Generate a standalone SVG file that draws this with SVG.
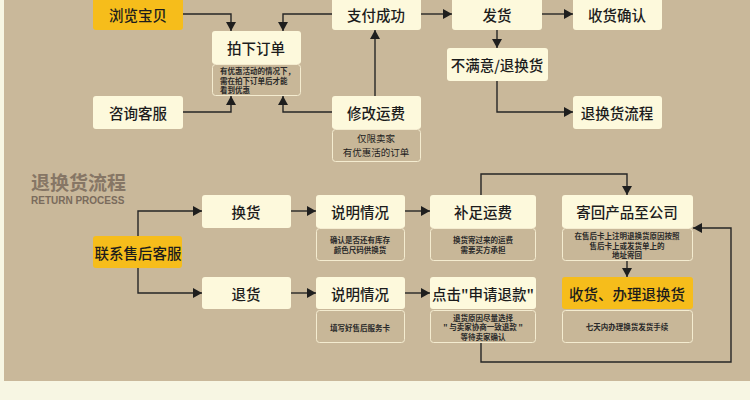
<svg xmlns="http://www.w3.org/2000/svg" width="750" height="400" viewBox="0 0 750 400">
<defs>
<marker id="ah" markerUnits="userSpaceOnUse" markerWidth="10" markerHeight="10" refX="9" refY="5" orient="auto">
<path d="M0,0 L9,5 L0,10 Z" fill="#1e1e1e"/>
</marker>
<style>
.box{fill:#fdf9dc;}
.org{fill:#f6bd1b;}
.sub{fill:#c8b798;stroke:#f4ecd0;stroke-width:1;}
.t{font-family:"Noto Sans CJK SC","Noto Sans",sans-serif;font-size:14.5px;font-weight:500;fill:#1c1c1c;text-anchor:middle;dominant-baseline:central;}
.s{font-family:"Noto Sans CJK SC","Noto Sans",sans-serif;font-size:7.5px;font-weight:bold;fill:#2a2a2a;text-anchor:middle;dominant-baseline:central;}
.s2{font-family:"Noto Sans CJK SC","Noto Sans",sans-serif;font-size:9.5px;fill:#1c1c1c;text-anchor:middle;dominant-baseline:central;}
.ln{fill:none;stroke:#262626;stroke-width:1.4;marker-end:url(#ah);}
</style>
</defs>
<rect x="0" y="0" width="750" height="400" fill="#f7f6e3"/>
<rect x="4" y="0" width="746" height="381" fill="#c9b89a"/>

<g id="title">
<text x="31" y="181" font-family="Noto Sans CJK SC, sans-serif" font-size="19" font-weight="bold" fill="#867665" dominant-baseline="central">退换货流程</text>
<text x="31" y="200" font-family="Liberation Sans, Arial, sans-serif" font-size="10" font-weight="bold" fill="#7a6b5c" dominant-baseline="central">RETURN PROCESS</text>
</g>

<g id="connectors">
<path class="ln" d="M183,14 H231 V31"/>
<path class="ln" d="M183,112 H231 V96"/>
<path class="ln" d="M332,14 H283 V31"/>
<path class="ln" d="M332,112 H283 V96"/>
<path class="ln" d="M375,96 V30"/>
<path class="ln" d="M421,14 H452"/>
<path class="ln" d="M542,14 H573"/>
<path class="ln" d="M497,30 V48"/>
<path class="ln" d="M497,81 V112 H573"/>
<path class="ln" d="M138,236 V211 H202"/>
<path class="ln" d="M138,268 V293 H202"/>
<path class="ln" d="M291,211 H316"/>
<path class="ln" d="M405,211 H430"/>
<path class="ln" d="M481,195 V174 H627 V195"/>
<path class="ln" d="M627,260 V277"/>
<path class="ln" d="M291,293 H316"/>
<path class="ln" d="M405,293 H430"/>
<path class="ln" d="M481,343 V362 H731 V228 H693"/>
</g>

<g id="n-browse"><rect class="org" x="93" y="-3" width="90" height="33" rx="3"/><text class="t" x="138" y="14">浏览宝贝</text></g>
<g id="n-consult"><rect class="box" x="93" y="96" width="90" height="33" rx="3"/><text class="t" x="138" y="112">咨询客服</text></g>
<g id="n-order"><rect class="box" x="212" y="31" width="89" height="33" rx="3"/><text class="t" x="256" y="47">拍下订单</text>
<rect class="sub" x="212.5" y="64.5" width="88" height="31" rx="3"/>
<text class="s" x="220" y="70.5" style="text-anchor:start">有优惠活动的情况下，</text>
<text class="s" x="220" y="80" style="text-anchor:start">需在拍下订单后才能</text>
<text class="s" x="220" y="89.5" style="text-anchor:start">看到优惠</text></g>
<g id="n-pay"><rect class="box" x="332" y="-3" width="89" height="33" rx="3"/><text class="t" x="376" y="14">支付成功</text></g>
<g id="n-fee"><rect class="box" x="332" y="96" width="89" height="33" rx="3"/><text class="t" x="376" y="112">修改运费</text>
<rect class="sub" x="332.5" y="129.5" width="88" height="32" rx="3"/>
<text class="s2" x="376" y="138">仅限卖家</text>
<text class="s2" x="376" y="152">有优惠活的订单</text></g>
<g id="n-ship"><rect class="box" x="452" y="-3" width="90" height="33" rx="3"/><text class="t" x="497" y="14">发货</text></g>
<g id="n-confirm"><rect class="box" x="573" y="-3" width="89" height="33" rx="3"/><text class="t" x="617" y="14">收货确认</text></g>
<g id="n-unhappy"><rect class="box" x="447" y="48" width="101" height="33" rx="3"/><text class="t" x="497" y="64">不满意/退换货</text></g>
<g id="n-returnflow"><rect class="box" x="573" y="96" width="89" height="33" rx="3"/><text class="t" x="617" y="112">退换货流程</text></g>

<g id="n-service"><rect class="org" x="93" y="236" width="89" height="32" rx="3"/><text class="t" x="138" y="252">联系售后客服</text></g>
<g id="n-exchange"><rect class="box" x="202" y="195" width="89" height="33" rx="3"/><text class="t" x="246" y="211">换货</text></g>
<g id="n-explain1"><rect class="box" x="316" y="195" width="89" height="33" rx="3"/><text class="t" x="360" y="211">说明情况</text>
<rect class="sub" x="316.5" y="228.5" width="88" height="32" rx="3"/>
<text class="s" x="360" y="239">确认是否还有库存</text>
<text class="s" x="360" y="249">颜色尺码供换货</text></g>
<g id="n-topup"><rect class="box" x="430" y="195" width="106" height="33" rx="3"/><text class="t" x="483" y="211">补足运费</text>
<rect class="sub" x="430.5" y="228.5" width="105" height="32" rx="3"/>
<text class="s" x="483" y="239">换货寄过来的运费</text>
<text class="s" x="483" y="249">需要买方承担</text></g>
<g id="n-sendback"><rect class="box" x="562" y="195" width="131" height="33" rx="3"/><text class="t" x="627" y="211">寄回产品至公司</text>
<rect class="sub" x="562.5" y="228.5" width="130" height="32" rx="3"/>
<text class="s" x="627" y="235.5">在售后卡上注明退换货原因按照</text>
<text class="s" x="627" y="245">售后卡上或发货单上的</text>
<text class="s" x="627" y="254.5">地址寄回</text></g>
<g id="n-refund"><rect class="box" x="202" y="277" width="89" height="32" rx="3"/><text class="t" x="246" y="293">退货</text></g>
<g id="n-explain2"><rect class="box" x="316" y="277" width="89" height="32" rx="3"/><text class="t" x="360" y="293">说明情况</text>
<rect class="sub" x="316.5" y="310.5" width="88" height="32" rx="3"/>
<text class="s" x="360" y="327">填写好售后服务卡</text></g>
<g id="n-apply"><rect class="box" x="430" y="277" width="106" height="32" rx="3"/><text class="t" x="483" y="293">点击"申请退款"</text>
<rect class="sub" x="430.5" y="310.5" width="105" height="32" rx="3"/>
<text class="s" x="483" y="317">退货原因尽量选择</text>
<text class="s" x="483" y="326.5">" 与卖家协商一致退款 "</text>
<text class="s" x="483" y="336">等待卖家确认</text></g>
<g id="n-receive"><rect class="org" x="562" y="277" width="131" height="32" rx="3"/><text class="t" x="627" y="293">收货、办理退换货</text>
<rect class="sub" x="562.5" y="310.5" width="130" height="32" rx="3"/>
<text class="s" x="627" y="326">七天内办理换货发货手续</text></g>
</svg>
